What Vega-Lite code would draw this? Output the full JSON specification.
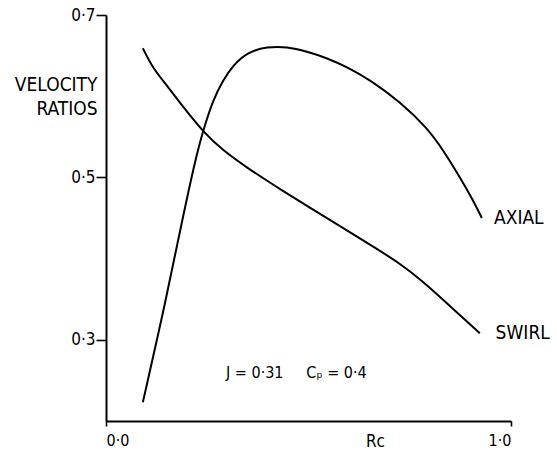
{
  "$schema": "https://vega.github.io/schema/vega-lite/v6.json",
  "width": 405,
  "height": 406,
  "autosize": "none",
  "padding": {"left": 106, "top": 15, "right": 46, "bottom": 30},
  "background": "white",
  "config": {
    "view": {"stroke": null},
    "font": "DejaVu Sans Condensed, Liberation Sans Narrow, DejaVu Sans",
    "axis": {"grid": false, "domainColor": "black", "tickColor": "black", "domainWidth": 2, "tickWidth": 1.6, "labelColor": "black", "titleColor": "black", "labelFont": "DejaVu Sans Condensed, Liberation Sans Narrow, DejaVu Sans", "titleFont": "DejaVu Sans Condensed, Liberation Sans Narrow, DejaVu Sans", "titleFontWeight": "normal"}
  },
  "datasets": {
    "curves": [
      {"series": "AXIAL", "rc": 0.091, "v": 0.223},
      {"series": "AXIAL", "rc": 0.148, "v": 0.349},
      {"series": "AXIAL", "rc": 0.183, "v": 0.435},
      {"series": "AXIAL", "rc": 0.220, "v": 0.521},
      {"series": "AXIAL", "rc": 0.240, "v": 0.558},
      {"series": "AXIAL", "rc": 0.264, "v": 0.595},
      {"series": "AXIAL", "rc": 0.289, "v": 0.620},
      {"series": "AXIAL", "rc": 0.314, "v": 0.638},
      {"series": "AXIAL", "rc": 0.348, "v": 0.654},
      {"series": "AXIAL", "rc": 0.398, "v": 0.661},
      {"series": "AXIAL", "rc": 0.447, "v": 0.661},
      {"series": "AXIAL", "rc": 0.496, "v": 0.655},
      {"series": "AXIAL", "rc": 0.546, "v": 0.647},
      {"series": "AXIAL", "rc": 0.595, "v": 0.636},
      {"series": "AXIAL", "rc": 0.652, "v": 0.620},
      {"series": "AXIAL", "rc": 0.726, "v": 0.593},
      {"series": "AXIAL", "rc": 0.793, "v": 0.561},
      {"series": "AXIAL", "rc": 0.832, "v": 0.534},
      {"series": "AXIAL", "rc": 0.874, "v": 0.500},
      {"series": "AXIAL", "rc": 0.906, "v": 0.472},
      {"series": "AXIAL", "rc": 0.928, "v": 0.450},
      {"series": "SWIRL", "rc": 0.091, "v": 0.659},
      {"series": "SWIRL", "rc": 0.116, "v": 0.634},
      {"series": "SWIRL", "rc": 0.151, "v": 0.613},
      {"series": "SWIRL", "rc": 0.190, "v": 0.587},
      {"series": "SWIRL", "rc": 0.240, "v": 0.556},
      {"series": "SWIRL", "rc": 0.289, "v": 0.533},
      {"series": "SWIRL", "rc": 0.348, "v": 0.512},
      {"series": "SWIRL", "rc": 0.422, "v": 0.488},
      {"series": "SWIRL", "rc": 0.496, "v": 0.465},
      {"series": "SWIRL", "rc": 0.578, "v": 0.440},
      {"series": "SWIRL", "rc": 0.659, "v": 0.415},
      {"series": "SWIRL", "rc": 0.726, "v": 0.394},
      {"series": "SWIRL", "rc": 0.780, "v": 0.373},
      {"series": "SWIRL", "rc": 0.842, "v": 0.345},
      {"series": "SWIRL", "rc": 0.923, "v": 0.308}
    ],
    "labels": [
      {"text": "AXIAL", "rc": 0.958, "v": 0.45},
      {"text": "SWIRL", "rc": 0.962, "v": 0.308}
    ],
    "notes": [
      {"text": "J = 0·31\u00a0\u00a0\u00a0\u00a0\u00a0Cₚ = 0·4", "rc": 0.47, "v": 0.259}
    ]
  },
  "layer": [
    {
      "data": {"name": "curves"},
      "mark": {"type": "line", "color": "black", "strokeWidth": 2, "interpolate": "basis"},
      "encoding": {
        "x": {"field": "rc", "type": "quantitative", "scale": {"domain": [0, 1], "nice": false},
          "axis": {"values": [0, 1], "labelExpr": "replace(format(datum.value, '.1f'), '.', '·')", "tickSize": 5, "labelPadding": 6, "labelFontSize": 16,
            "title": "Rc", "titleFontSize": 17, "titleX": 269, "titleY": 25, "titleBaseline": "alphabetic"}},
        "y": {"field": "v", "type": "quantitative", "scale": {"domain": [0.2, 0.7], "nice": false, "zero": false},
          "axis": {"values": [0.3, 0.5, 0.7], "labelExpr": "replace(format(datum.value, '.1f'), '.', '·')", "tickSize": 10, "labelPadding": 1, "labelFontSize": 17,
            "title": ["VELOCITY", "RATIOS"], "titleFontSize": 19, "titleAngle": 0, "titleAlign": "right", "titleBaseline": "alphabetic", "titleX": -9, "titleY": 75, "titleLineHeight": 24}},
        "detail": {"field": "series"}
      }
    },
    {
      "data": {"name": "labels"},
      "mark": {"type": "text", "align": "left", "baseline": "middle", "fontSize": 19, "color": "black"},
      "encoding": {
        "x": {"field": "rc", "type": "quantitative"},
        "y": {"field": "v", "type": "quantitative"},
        "text": {"field": "text"}
      }
    },
    {
      "data": {"name": "notes"},
      "mark": {"type": "text", "align": "center", "baseline": "middle", "fontSize": 16, "color": "black"},
      "encoding": {
        "x": {"field": "rc", "type": "quantitative"},
        "y": {"field": "v", "type": "quantitative"},
        "text": {"field": "text"}
      }
    }
  ]
}
